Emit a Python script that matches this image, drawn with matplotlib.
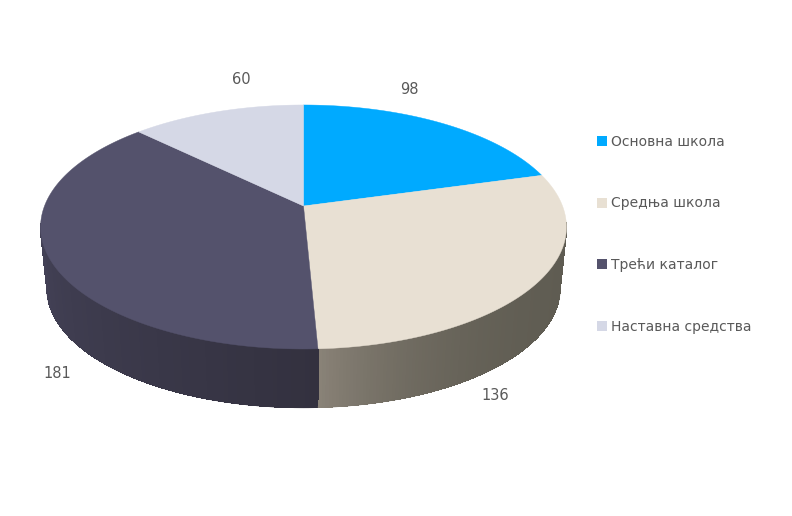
import matplotlib
matplotlib.use("Agg")
import matplotlib.pyplot as plt
from matplotlib.collections import LineCollection, PolyCollection
from matplotlib.colors import to_rgb
from matplotlib.patches import Patch
import numpy as np

categories = ["Основна школа", "Средња школа", "Трећи каталог", "Наставна средства"]
values = [98, 136, 181, 60]
top_colors = ["#00aaff", "#e8e0d3", "#54526c", "#d5d8e6"]
# side colours: start of the slice -> end of the slice (clockwise)
side_start = ["#5f5c52", "#5f5c52", "#33313f", "#4a4860"]
side_end = ["#5f5c52", "#8a8378", "#4a4860", "#4a4860"]
label_pos = [(409, 90), (495, 396), (57, 373), (241, 80)]

# pixel geometry of the perspective disc
CX, CY = 303.5, 206
A, B, K = 259, 118.4, 0.172
DEPTH = 62
BOTTOM_SCALE = 0.975


def project(theta, scale=1.0, shift=0.0):
    # theta in radians, clockwise from 12 o'clock
    x, y = np.sin(theta), np.cos(theta)
    w = 1 + K * y
    return CX + scale * A * x / w, CY - scale * B * y / w + shift


fig = plt.figure(figsize=(7.92, 5.16), dpi=100)
ax = fig.add_axes([0, 0, 1, 1])
ax.set_xlim(0, 792)
ax.set_ylim(516, 0)
ax.axis("off")

edges = np.deg2rad(np.cumsum([0] + values) / sum(values) * 360)

# side wall, thin strips so the shading can change along the rim
for i in range(len(values)):
    n = 160
    th = np.linspace(edges[i], edges[i + 1], n + 1)
    c0, c1 = np.array(to_rgb(side_start[i])), np.array(to_rgb(side_end[i]))
    frac = np.arange(n) / n
    # beige side brightens only close to the front edge
    t = frac ** 5 if i == 1 else 1 - (1 - frac) ** 1.3
    cols = c0 + (c1 - c0) * t[:, None]
    tx, ty = project(th)
    bx, by = project(th, BOTTOM_SCALE, DEPTH)
    # the wall only shows below the widest point of the top face
    front = [j for j in range(n) if np.cos(th[j]) < -0.14 and np.cos(th[j + 1]) < -0.14]
    quads = [np.c_[[tx[j], tx[j + 1], bx[j + 1], bx[j]], [ty[j], ty[j + 1], by[j + 1], by[j]]]
             for j in front]
    # antialiasing off here, otherwise the strip seams show up as stripes
    ax.add_collection(PolyCollection(quads, facecolors=cols[front], edgecolors=cols[front],
                                     linewidths=0.5, antialiaseds=False, zorder=2))
    # smooth the outer rim
    segs = [np.c_[bx[j:j + 2], by[j:j + 2]] for j in front]
    ax.add_collection(LineCollection(segs, colors=cols[front], linewidths=1.0, zorder=2.5))

# top face
for i in range(len(values)):
    th = np.linspace(edges[i], edges[i + 1], 200)
    x, y = project(th)
    ax.fill(np.r_[CX, x], np.r_[CY, y], color=top_colors[i], lw=0.3, zorder=3)

for v, (px, py) in zip(values, label_pos):
    ax.text(px, py, str(v), ha="center", va="center", fontsize=10.5, color="#595959")

handles = [Patch(facecolor=c, edgecolor="none", label=n) for c, n in zip(top_colors, categories)]
ax.legend(handles=handles, loc="upper left", bbox_to_anchor=(597 / 792, 1 - 135 / 516),
          frameon=False, fontsize=10, labelcolor="#595959", labelspacing=3.42,
          handlelength=0.7, handleheight=0.7, handletextpad=0.28, borderpad=0, borderaxespad=0)

fig.savefig("out.png", dpi=100)
